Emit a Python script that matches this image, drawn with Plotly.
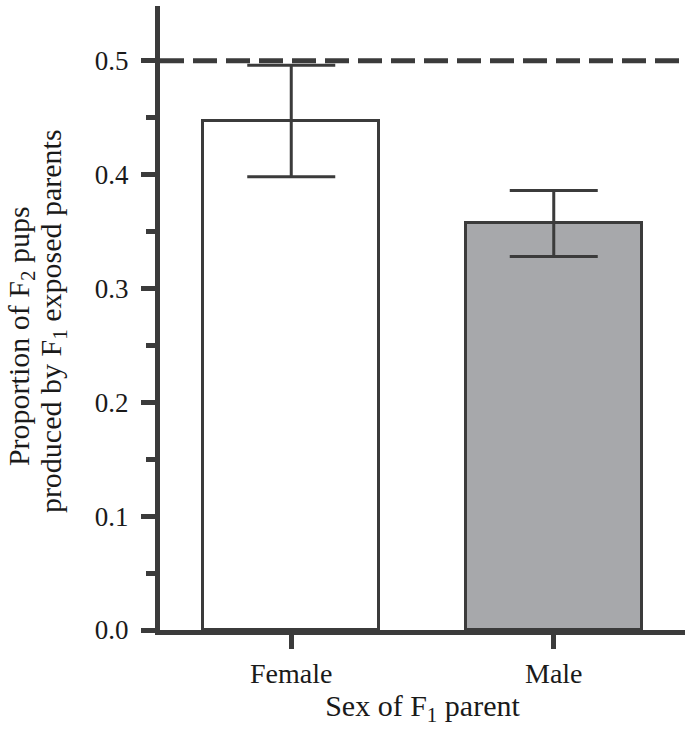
import plotly.graph_objects as go

categories = ["Female", "Male"]
proportions = [0.447, 0.357]
errors = [0.049, 0.029]
bar_colors = ["#ffffff", "#a7a8ab"]
reference_level = 0.5
y_ticks = [0.0, 0.1, 0.2, 0.3, 0.4, 0.5]
y_title_lines = ["Proportion of F<sub>2</sub> pups", "produced by F<sub>1</sub> exposed parents"]
x_title = "Sex of F<sub>1</sub> parent"

INK = "#3b3b3b"
FONT = "Liberation Serif"
TXT = "#1a1a1a"

fig = go.Figure()
fig.add_trace(go.Bar(
    x=[0, 1], y=proportions,
    width=0.67,
    marker=dict(color=bar_colors, line=dict(color=INK, width=3)),
    error_y=dict(type="data", array=errors, visible=True, color=INK, thickness=3, width=44),
    showlegend=False,
))
fig.add_trace(go.Scatter(
    x=[-0.5, 1.5], y=[reference_level, reference_level],
    mode="lines", line=dict(color=INK, width=5, dash="24px,9px"),
    showlegend=False, hoverinfo="skip",
))

fig.update_layout(
    width=690, height=733,
    margin=dict(l=160, r=5, t=6, b=103),
    plot_bgcolor="white", paper_bgcolor="white",
    font=dict(family=FONT, size=26, color=TXT),
    bargap=0,
)
fig.update_xaxes(
    range=[-0.5, 1.5], tickvals=[0, 1], ticktext=categories,
    tickfont=dict(family=FONT, size=28, color=TXT),
    showline=True, linecolor=INK, linewidth=5,
    ticks="outside", ticklen=14, tickwidth=5, tickcolor=INK,
    showgrid=False, zeroline=False, automargin=False,
    title=dict(text=x_title, standoff=4, font=dict(family=FONT, size=30, color=TXT)),
)
fig.update_yaxes(
    range=[0, 0.548], tickvals=y_ticks, tickformat=".1f",
    tickfont=dict(family=FONT, size=27, color=TXT),
    ticklabelstandoff=7,
    showline=True, linecolor=INK, linewidth=5,
    ticks="outside", ticklen=14, tickwidth=5, tickcolor=INK,
    minor=dict(dtick=0.05, tick0=0.05, ticks="outside", ticklen=9, tickwidth=5, tickcolor=INK, showgrid=False),
    showgrid=False, zeroline=False, automargin=False,
)
for text, ycen, xs in [(y_title_lines[0], 0.471, -139), (y_title_lines[1], 0.495, -107)]:
    fig.add_annotation(
        text=text, textangle=-90, xref="paper", yref="paper", x=0, y=ycen,
        xanchor="center", yanchor="middle", xshift=xs, showarrow=False,
        font=dict(family=FONT, size=30, color=TXT),
    )

fig.write_html("out.html", config={"displayModeBar": False},
               post_script="document.body.style.margin='0px';")
